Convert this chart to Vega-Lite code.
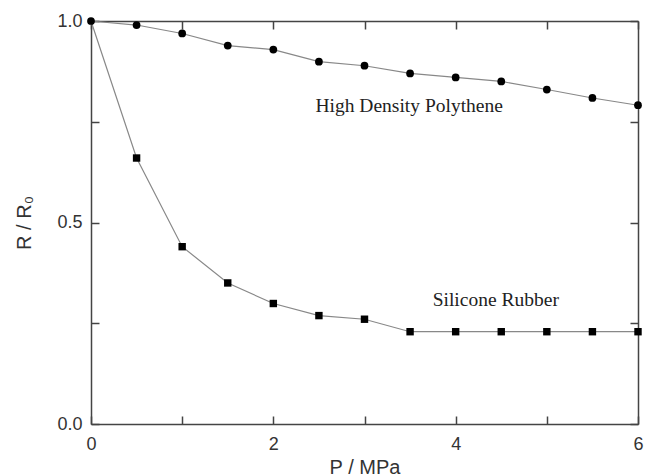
{
  "$schema": "https://vega.github.io/schema/vega-lite/v6.json",
  "width": 547,
  "height": 403,
  "autosize": {"type": "none"},
  "padding": {"left": 91, "top": 21, "right": 9, "bottom": 52},
  "background": "white",
  "config": {
    "view": {"stroke": null},
    "axis": {
      "grid": false,
      "labelFlush": false,
      "domainColor": "#444444",
      "domainWidth": 1.5,
      "tickColor": "#444444",
      "tickWidth": 1.5,
      "labelFont": "Liberation Sans",
      "labelFontSize": 18,
      "labelColor": "#333333",
      "titleFont": "Liberation Sans",
      "titleFontSize": 20,
      "titleFontWeight": "normal",
      "titleColor": "#333333"
    }
  },
  "datasets": {
    "curves": [
      {"material": "High Density Polythene", "P": 0, "R": 1.0},
      {"material": "High Density Polythene", "P": 0.5, "R": 0.99},
      {"material": "High Density Polythene", "P": 1, "R": 0.969},
      {"material": "High Density Polythene", "P": 1.5, "R": 0.939},
      {"material": "High Density Polythene", "P": 2, "R": 0.929},
      {"material": "High Density Polythene", "P": 2.5, "R": 0.899},
      {"material": "High Density Polythene", "P": 3, "R": 0.889},
      {"material": "High Density Polythene", "P": 3.5, "R": 0.87},
      {"material": "High Density Polythene", "P": 4, "R": 0.86},
      {"material": "High Density Polythene", "P": 4.5, "R": 0.85},
      {"material": "High Density Polythene", "P": 5, "R": 0.83},
      {"material": "High Density Polythene", "P": 5.5, "R": 0.809},
      {"material": "High Density Polythene", "P": 6, "R": 0.791},
      {"material": "Silicone Rubber", "P": 0, "R": 1.0},
      {"material": "Silicone Rubber", "P": 0.5, "R": 0.66},
      {"material": "Silicone Rubber", "P": 1, "R": 0.44},
      {"material": "Silicone Rubber", "P": 1.5, "R": 0.35},
      {"material": "Silicone Rubber", "P": 2, "R": 0.299},
      {"material": "Silicone Rubber", "P": 2.5, "R": 0.269},
      {"material": "Silicone Rubber", "P": 3, "R": 0.26},
      {"material": "Silicone Rubber", "P": 3.5, "R": 0.229},
      {"material": "Silicone Rubber", "P": 4, "R": 0.229},
      {"material": "Silicone Rubber", "P": 4.5, "R": 0.229},
      {"material": "Silicone Rubber", "P": 5, "R": 0.229},
      {"material": "Silicone Rubber", "P": 5.5, "R": 0.229},
      {"material": "Silicone Rubber", "P": 6, "R": 0.229}
    ],
    "labels": [
      {"text": "High Density Polythene", "P": 3.49, "R": 0.775},
      {"text": "Silicone Rubber", "P": 4.44, "R": 0.293}
    ]
  },
  "resolve": {"axis": {"x": "independent", "y": "independent"}},
  "layer": [
    {
      "data": {"name": "curves"},
      "mark": {"type": "line", "color": "#888888", "strokeWidth": 1.2},
      "encoding": {
        "x": {
          "field": "P", "type": "quantitative",
          "scale": {"domain": [0, 6], "nice": false, "zero": false},
          "axis": {
            "orient": "bottom",
            "values": [0, 1, 2, 3, 4, 5, 6],
            "tickSize": -8,
            "encoding": {"ticks": {"update": {"y2": {"signal": "datum.value % 2 === 0 ? -8 : -4"}}}},
            "labelExpr": "datum.value % 2 === 0 ? format(datum.value, 'd') : ''",
            "labelPadding": 19,
            "title": "P / MPa",
            "titlePadding": 4
          }
        },
        "y": {
          "field": "R", "type": "quantitative",
          "scale": {"domain": [0, 1], "nice": false, "zero": false},
          "axis": {
            "orient": "left",
            "values": [0, 0.25, 0.5, 0.75, 1],
            "tickSize": -8,
            "encoding": {"ticks": {"update": {"x2": {"signal": "round(datum.value * 4) % 2 === 0 ? 8 : 4"}}}},
            "labelExpr": "round(datum.value * 4) % 2 === 0 ? format(datum.value, '.1f') : ''",
            "labelPadding": 17,
            "title": "R / R₀",
            "titlePadding": 22
          }
        },
        "detail": {"field": "material"}
      }
    },
    {
      "data": {"name": "curves"},
      "transform": [{"filter": "datum.material === 'High Density Polythene'"}],
      "mark": {"type": "point", "shape": "circle", "filled": true, "color": "black", "size": 60, "opacity": 1},
      "encoding": {
        "x": {
          "field": "P", "type": "quantitative",
          "scale": {"domain": [0, 6], "nice": false, "zero": false},
          "axis": {
            "orient": "top",
            "values": [0, 1, 2, 3, 4, 5, 6],
            "tickSize": -8,
            "encoding": {"ticks": {"update": {"y2": {"signal": "datum.value % 2 === 0 ? 8 : 4"}}}},
            "labels": false,
            "title": null
          }
        },
        "y": {
          "field": "R", "type": "quantitative",
          "scale": {"domain": [0, 1], "nice": false, "zero": false},
          "axis": {
            "orient": "right",
            "values": [0, 0.25, 0.5, 0.75, 1],
            "tickSize": -8,
            "encoding": {"ticks": {"update": {"x2": {"signal": "round(datum.value * 4) % 2 === 0 ? -8 : -4"}}}},
            "labels": false,
            "title": null
          }
        }
      }
    },
    {
      "data": {"name": "curves"},
      "transform": [{"filter": "datum.material === 'Silicone Rubber' && datum.P > 0"}],
      "mark": {"type": "point", "shape": "square", "filled": true, "color": "black", "size": 55, "opacity": 1},
      "encoding": {
        "x": {"field": "P", "type": "quantitative", "axis": null},
        "y": {"field": "R", "type": "quantitative", "axis": null}
      }
    },
    {
      "data": {"name": "labels"},
      "mark": {"type": "text", "font": "Liberation Serif", "fontSize": 19.5, "color": "#222222", "align": "center", "baseline": "alphabetic"},
      "encoding": {
        "x": {"field": "P", "type": "quantitative", "axis": null},
        "y": {"field": "R", "type": "quantitative", "axis": null},
        "text": {"field": "text"}
      }
    }
  ]
}
